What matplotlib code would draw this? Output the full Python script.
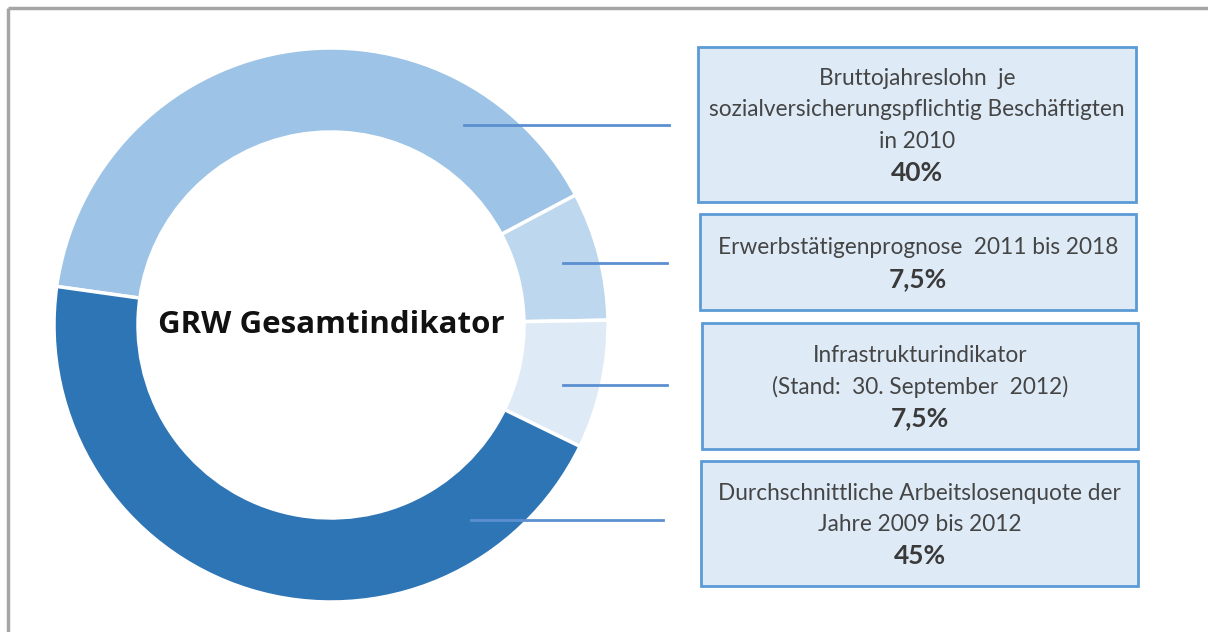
import numpy as np
import matplotlib.pyplot as plt
from matplotlib.patches import Rectangle

# --- data ---
labels = [
    "Bruttojahreslohn  je\nsozialversicherungspflichtig Beschäftigten\nin 2010",
    "Erwerbstätigenprognose  2011 bis 2018",
    "Infrastrukturindikator\n(Stand:  30. September  2012)",
    "Durchschnittliche Arbeitslosenquote der\nJahre 2009 bis 2012",
]
shares = [40, 7.5, 7.5, 45]
share_labels = ["40%", "7,5%", "7,5%", "45%"]
colors = ["#9DC3E6", "#BDD7EE", "#DEEBF7", "#2E75B6"]
center_title = "GRW Gesamtindikator"

W, H = 1208, 632
fig = plt.figure(figsize=(W / 100, H / 100), dpi=100)
ax = fig.add_axes([0, 0, 1, 1])


def py(y):
    # pixel row (from top) -> data y
    return H - y


# donut
cx, cy, R = 331, py(325), 277
ring = 84
ax.pie(shares, colors=colors, radius=R, center=(cx, cy), startangle=172,
       counterclock=False, wedgeprops=dict(width=ring, edgecolor="white", linewidth=2.5),
       frame=True)
ax.set_xlim(0, W)
ax.set_ylim(0, H)
ax.set_aspect("equal")
ax.axis("off")

# outer frame (only top/left edge visible in the crop)
ax.plot([8, W + 5], [py(8), py(8)], color="#A6A6A6", lw=2.5, solid_capstyle="butt")
ax.plot([8, 8], [py(8), -5], color="#A6A6A6", lw=2.5, solid_capstyle="butt")

ax.text(cx, py(325), center_title, ha="center", va="center", fontsize=22.5,
        fontweight="bold", family="Open Sans", color="#111111")

# boxes: left, top, right, bottom (pixels)
boxes = [(698, 47, 1136, 202), (700, 214, 1136, 310),
         (702, 323, 1138, 449), (701, 461, 1138, 586)]
line_y = [125, 263, 385, 520]
line_end = [669, 667, 667, 663]
r_start = 240
step = 31.5

for (x0, y0, x1, y1), lab, pct, ly, lx in zip(boxes, labels, share_labels, line_y, line_end):
    ax.add_patch(Rectangle((x0, py(y1)), x1 - x0, y1 - y0, facecolor="#DEEBF7",
                           edgecolor="#5B9BD5", linewidth=2))
    xm = (x0 + x1) / 2
    ym = (y0 + y1) / 2 + 1
    rows = lab.split("\n") + [pct]
    n = len(rows)
    for k, row in enumerate(rows):
        yk = ym + (k - (n - 1) / 2) * step
        if k == n - 1:
            ax.text(xm, py(yk), row, ha="center", va="center", fontsize=19,
                    fontweight="bold", family="Lato", color="#3A3A3A")
        else:
            ax.text(xm, py(yk), row, ha="center", va="center", fontsize=16.3,
                    family="Lato", color="#454545")
    dy = cy - py(ly)
    xs = cx + np.sqrt(r_start ** 2 - dy ** 2)
    ax.plot([xs, lx], [py(ly), py(ly)], color="#5B8FD0", lw=2)

fig.savefig("out.png", dpi=100)
